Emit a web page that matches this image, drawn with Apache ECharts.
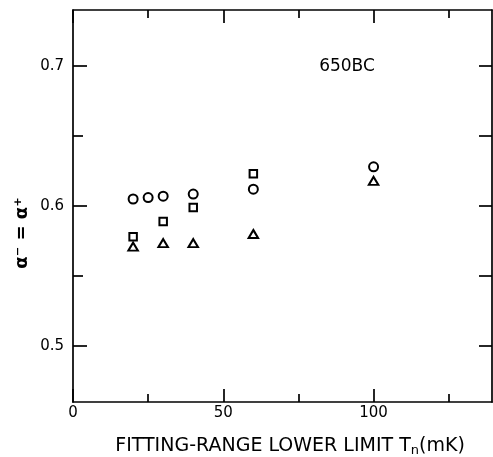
<!DOCTYPE html>
<html>
<head>
<meta charset="utf-8">
<script src="https://cdn.jsdelivr.net/npm/echarts@6/dist/echarts.min.js"></script>
<style>
html,body{margin:0;padding:0;background:#fff;}
#c{width:493px;height:457px;}
</style>
</head>
<body>
<div id="c"></div>
<script>
// Data (x: T_n in mK, y: alpha)
const circleX = [20, 25, 30, 40, 60, 100];
const circleY = [0.605, 0.606, 0.607, 0.6085, 0.612, 0.628];
const squareX = [20, 30, 40, 60];
const squareY = [0.578, 0.589, 0.599, 0.623];
const triangleX = [20, 30, 40, 60, 100];
const triangleY = [0.571, 0.5735, 0.5735, 0.580, 0.618];

const xLabelTicks = [0, 50, 100];
const xMinorTicks = [25, 75, 125];
const yLabelTicks = [0.5, 0.6, 0.7];
const yMinorTicks = [0.55, 0.65];
const yAllTicks = [0.5, 0.55, 0.6, 0.65, 0.7];

const sampleName = '650BC';
const xTitle = 'FITTING-RANGE LOWER LIMIT T';
const xTitleSub = 'n';
const xTitleUnit = '(mK)';
const yTitle = 'α⁻ = α⁺';

const pairs = (xs, ys) => xs.map((x, i) => [x, ys[i]]);

const FONT = 'DejaVu Sans';
const LW = 1.7;
const XMIN = 0, XMAX = 139.4, YMIN = 0.46, YMAX = 0.74;

function xAx(position, ticks, len, labels, showLine) {
  return {
    type: 'value', position: position, min: XMIN, max: XMAX,
    axisLine: {show: showLine, onZero: false, lineStyle: {color: '#000', width: LW}},
    axisTick: {show: true, inside: true, length: len, customValues: ticks, lineStyle: {color: '#000', width: LW}},
    axisLabel: labels ? {show: true, customValues: labels, color: '#000', fontFamily: FONT, fontSize: 15, margin: 4,
      formatter: v => String(v)} : {show: false},
    splitLine: {show: false}
  };
}
function yAx(position, ticks, len, labels, showLine) {
  return {
    type: 'value', position: position, min: YMIN, max: YMAX,
    axisLine: {show: showLine, onZero: false, lineStyle: {color: '#000', width: LW}},
    axisTick: {show: true, inside: true, length: len, customValues: ticks, lineStyle: {color: '#000', width: LW}},
    axisLabel: labels ? {show: true, customValues: labels, color: '#000', fontFamily: FONT, fontSize: 15, margin: 9,
      formatter: v => v.toFixed(1)} : {show: false},
    splitLine: {show: false}
  };
}

const markerStyle = {color: '#fff', borderColor: '#000', borderWidth: 2, opacity: 1};

const chart = echarts.init(document.getElementById('c'), null, {renderer: 'canvas'});
chart.setOption({
  backgroundColor: '#fff',
  animation: false,
  grid: {left: 73, top: 10, width: 419, height: 392, containLabel: false},
  xAxis: [
    xAx('bottom', xLabelTicks, 13, xLabelTicks, true),
    xAx('bottom', xMinorTicks, 8, null, false),
    xAx('top', xLabelTicks, 13, null, true),
    xAx('top', xMinorTicks, 8, null, false)
  ],
  yAxis: [
    yAx('left', yLabelTicks, 14, yLabelTicks, true),
    yAx('left', yMinorTicks, 10, null, false),
    yAx('right', yAllTicks, 13, null, true)
  ],
  series: [
    {type: 'scatter', name: 'circle', symbol: 'circle', symbolSize: 9, data: pairs(circleX, circleY), itemStyle: markerStyle},
    {type: 'scatter', name: 'square', symbol: 'rect', symbolSize: 7.5, data: pairs(squareX, squareY), itemStyle: markerStyle},
    {type: 'scatter', name: 'triangle', symbol: 'triangle', symbolSize: [9.5, 8], data: pairs(triangleX, triangleY), itemStyle: markerStyle}
  ],
  graphic: [
    {type: 'text', x: 347, y: 67, style: {text: sampleName, font: '17px "DejaVu Sans"', fill: '#000', align: 'center', verticalAlign: 'middle'}},
    {type: 'text', x: 290, y: 446, style: {
      text: '{t|' + xTitle + '}{s|' + xTitleSub + '}{t|' + xTitleUnit + '}',
      align: 'center', verticalAlign: 'middle',
      rich: {
        t: {fontFamily: FONT, fontSize: 19, fill: '#000', lineHeight: 22},
        s: {fontFamily: FONT, fontSize: 13, fill: '#000', lineHeight: 22, padding: [10, 0, 0, 0]}
      }
    }},
    {type: 'text', x: 22, y: 233, rotation: Math.PI / 2, style: {text: yTitle, font: 'bold 18px "DejaVu Sans"', fill: '#000', align: 'center', verticalAlign: 'middle'}}
  ]
});
</script>
</body>
</html>
